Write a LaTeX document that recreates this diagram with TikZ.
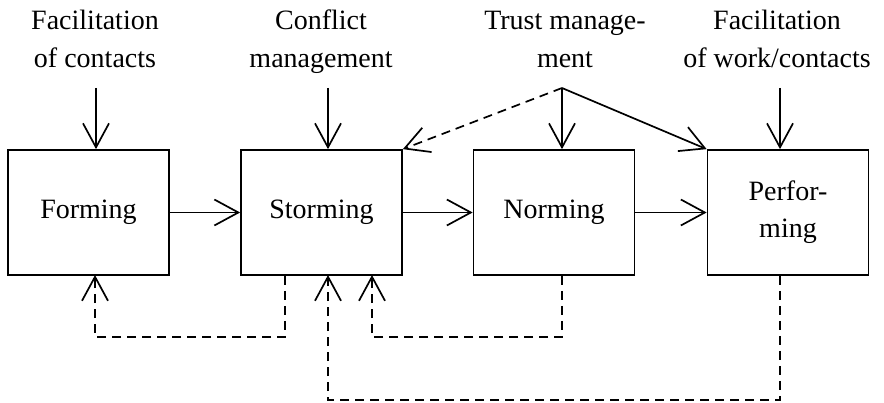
\documentclass[tikz,border=0pt]{standalone}
\usepackage{fontspec}
\setmainfont{Liberation Serif}
\usetikzlibrary{arrows.meta}
\begin{document}
\begin{tikzpicture}[x=1pt,y=-1pt,line width=1.7pt,
    stage/.style={draw,minimum width=161pt,minimum height=125pt,inner sep=0pt,
      align=center,font=\fontsize{28}{37}\selectfont},
    lbl/.style={inner sep=0pt,align=center,font=\fontsize{28}{38}\selectfont},
    arr/.style={-{Straight Barb[length=24pt,width=26pt,line width=1.7pt]}},
    fb/.style={arr,dash pattern=on 9pt off 6pt}]
  \useasboundingbox (0,0) rectangle (884,403);
  % stages
  \node[stage] (forming) at (88.5,212.5) {Forming};
  \node[stage] (storming) at (321.5,212.5) {Storming};
  \node[stage] (norming) at (554,212.5) {Norming};
  \node[stage] (performing) at (788,212.5) {Perfor-\\ming};
  % influences
  \node[lbl] (facil) at (95,39) {Facilitation\\of contacts};
  \node[lbl] (conflict) at (321,42) {Conflict\\management};
  \node[lbl] (trust) at (565,39) {Trust manage-\\ment};
  \node[lbl] (work) at (777,39) {Facilitation\\of work/contacts};
  \coordinate (facilin) at (96,88);
  \coordinate (conflictin) at (328,88);
  \coordinate (trustin) at (562,88);
  \coordinate (workin) at (780,88);
  \draw[arr] (facilin) -- (facilin |- forming.north);
  \draw[arr] (conflictin) -- (conflictin |- storming.north);
  \draw[arr] (trustin) -- (trustin |- norming.north);
  \draw[arr] (trustin) -- (performing.north west);
  \draw[fb] (trustin) -- (storming.north east);
  \draw[arr] (workin) -- (workin |- performing.north);
  % sequence
  \draw[arr] (forming) -- (storming);
  \draw[arr] (storming) -- (norming);
  \draw[arr] (norming) -- (performing);
  % feedback
  \coordinate (back1) at (285,337);
  \coordinate (back2) at (562,337);
  \coordinate (back3) at (780,400);
  \draw[fb] (back1 |- storming.south) -- (back1) -- (95,337) -- (95,275);
  \draw[fb] (back2 |- norming.south) -- (back2) -- (372,337) -- (372,275);
  \draw[fb] (back3 |- performing.south) -- (back3) -- (328,400) -- (328,275);
\end{tikzpicture}
\end{document}
